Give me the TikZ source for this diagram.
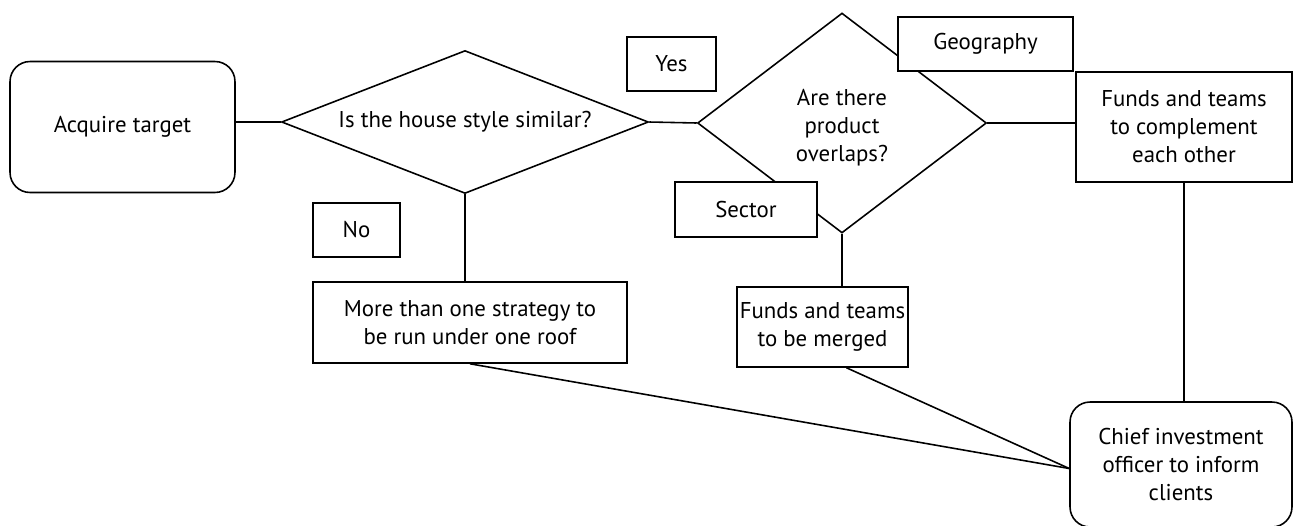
\documentclass[tikz,border=0pt]{standalone}
\usepackage{fontspec}
\setmainfont{PT Sans}
\usetikzlibrary{shapes.geometric,calc}
\begin{document}
\begin{tikzpicture}[x=0.02cm,y=-0.02cm,line width=0.9pt,
  font=\fontsize{13}{16}\selectfont,
  box/.style={draw,fill=white,rectangle,inner sep=0pt,align=center},
  rbox/.style={box,rounded corners=0.4cm},
  decision/.style={draw,diamond,inner sep=0pt},
  link/.style={draw}]
\useasboundingbox (0,0) rectangle (1295,525);

% start and decisions
\node[rbox,minimum width=4.5cm,minimum height=2.62cm] (acq) at (122.5,127) {Acquire target};
\node[decision,minimum width=7.34cm,minimum height=2.86cm] (d1) at (465,122) {};
\node[align=center] (d1t) at (d1.center) {Is the house style similar?};
\node[decision,minimum width=5.78cm,minimum height=4.4cm] (d2) at (842,123) {};
\node[align=center] (d2t) at ($(d2.center)+(0,5)$) {Are there\\product\\overlaps?};

% branch labels
\node[box,minimum width=1.78cm,minimum height=1.08cm] (yes) at (671.5,64) {Yes};
\node[box,minimum width=1.74cm,minimum height=1.08cm] (no) at (356.5,230) {No};
\node[box,minimum width=3.5cm,minimum height=1.08cm] (geo) at (985.5,44) {Geography};
\node[box,minimum width=2.84cm,minimum height=1.1cm] (sector) at (746,209.5) {Sector};

% outcomes
\node[box,minimum width=4.32cm,minimum height=2.2cm] (comp) at (1184,127) {Funds and teams\\to complement\\each other};
\node[box,minimum width=6.28cm,minimum height=1.62cm] (more) at (470,322.5) {More than one strategy to\\be run under one roof};
\node[box,minimum width=3.42cm,minimum height=1.6cm] (merged) at (822.5,327) {Funds and teams\\to be merged};
\node[rbox,minimum width=4.44cm,minimum height=2.5cm] (chief) at (1181,464.5) {Chief investment\\officer to inform\\clients};

% connectors
\coordinate (meet) at ($(chief.west)+(0,4)$);
\draw[link] (acq.east |- d1.west) -- (d1.west);
\draw[link] (d1.east) -- (d2.west);
\draw[link] (d2.east) -- (d2.east -| comp.west);
\draw[link] (d1.south) -- (d1.south |- more.north);
\draw[link] (d2.south) -- (d2.south |- merged.north);
\draw[link] (comp.south) -- (comp.south |- chief.north);
\draw[link] (more.south) -- (meet);
\draw[link] ($(merged.south)+(24,0)$) -- (meet);
\end{tikzpicture}
\end{document}
